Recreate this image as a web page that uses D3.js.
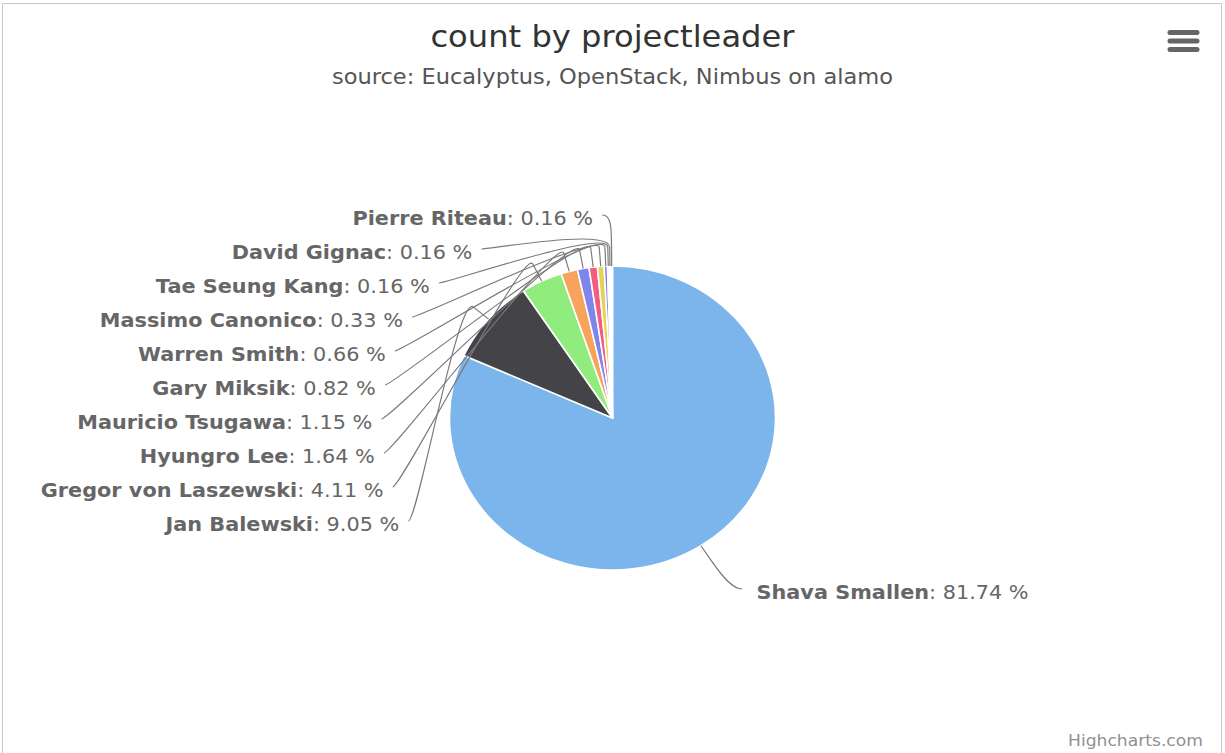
<!DOCTYPE html>
<html>
<head>
<meta charset="utf-8">
<script src="https://cdn.jsdelivr.net/npm/d3@7"></script>
<style>
  html, body { margin: 0; padding: 0; background: #fff; }
  svg { display: block; font-family: "DejaVu Sans", "Noto Sans", sans-serif; }
</style>
</head>
<body>
<svg id="chart" width="1225" height="753"></svg>
<script>
// ---- data ----
const leaders = ["Shava Smallen", "Jan Balewski", "Gregor von Laszewski", "Hyungro Lee",
  "Mauricio Tsugawa", "Gary Miksik", "Warren Smith", "Massimo Canonico",
  "Tae Seung Kang", "David Gignac", "Pierre Riteau"];
const counts = [497, 55, 25, 10, 7, 5, 4, 2, 1, 1, 1];
const sliceColors = ["#7cb5ec", "#434348", "#90ed7d", "#f7a35c", "#8085e9", "#f15c80",
  "#e4d354", "#8085e8", "#8d4653", "#91e8e1", "#7cb5ec"];
const titleText = "count by projectleader";
const subtitleText = "source: Eucalyptus, OpenStack, Nimbus on alamo";
const creditText = "Highcharts.com";

// ---- layout ----
const W = 1225, H = 753;
const sx = 1.0724;                 // horizontal stretch of the whole drawing
const cx = W / 2 / sx, cy = 418;   // pie centre (drawing units)
const r = 152;                     // pie radius
const labelDist = 55;              // distance of labels outside the pie
const R = r + labelDist;
const slotH = 34;                  // vertical spacing of stacked labels
const labelFont = 19.4;

const svg = d3.select("#chart");

// outer frame of the chart container
svg.append("rect")
  .attr("x", 2.5).attr("y", 3.5)
  .attr("width", W - 6).attr("height", H + 40)
  .attr("fill", "none").attr("stroke", "#c8c8c8").attr("stroke-width", 1);

// context menu button
const menu = svg.append("g");
[32.5, 41, 49.5].forEach(y => {
  menu.append("line")
    .attr("x1", 1170).attr("x2", 1197).attr("y1", y).attr("y2", y)
    .attr("stroke", "#666").attr("stroke-width", 5).attr("stroke-linecap", "round");
});

const g = svg.append("g").attr("transform", `scale(${sx},1)`);

// title & subtitle
g.append("text")
  .attr("x", cx).attr("y", 47)
  .attr("text-anchor", "middle")
  .attr("font-size", 30).attr("fill", "#333333")
  .text(titleText);
g.append("text")
  .attr("x", cx).attr("y", 84)
  .attr("text-anchor", "middle")
  .attr("font-size", 21).attr("fill", "#555555")
  .text(subtitleText);

// credits
g.append("text")
  .attr("x", 1203 / sx).attr("y", 746)
  .attr("text-anchor", "end")
  .attr("font-size", 16).attr("fill", "#909090")
  .text(creditText);

// ---- pie ----
const total = d3.sum(counts);
const data = leaders.map((name, i) => ({ name, count: counts[i], color: sliceColors[i] }));
const arcs = d3.pie().sort(null).value(d => d.count)(data);
const arc = d3.arc().innerRadius(0).outerRadius(r);

g.append("g")
  .attr("transform", `translate(${cx},${cy})`)
  .selectAll("path")
  .data(arcs)
  .join("path")
  .attr("d", arc)
  .attr("fill", d => d.data.color)
  .attr("stroke", "#ffffff")
  .attr("stroke-width", 1.5)
  .attr("stroke-linejoin", "round");

// ---- data labels with soft connectors ----
const pt = (a, rho) => [cx + rho * Math.sin(a), cy - rho * Math.cos(a)];
const getX = (y, left) =>
  cx + (left ? -1 : 1) * Math.sqrt(Math.max(0, R * R - (y - cy) * (y - cy)));
const slotTop = cy - R;

arcs.forEach(d => {
  d.mid = (d.startAngle + d.endAngle) / 2;
  d.left = Math.sin(d.mid) < 0;
  d.nat = pt(d.mid, R);
});

[true, false].forEach(side => {
  const items = arcs.filter(d => d.left === side).sort((a, b) => a.nat[1] - b.nat[1]);
  let prev = -1;
  items.forEach(d => {
    const nearest = Math.round((d.nat[1] - slotTop) / slotH);
    const idx = Math.max(nearest, prev + 1);
    prev = idx;
    d.slotY = slotTop + idx * slotH;
    d.ax = Math.abs(d.slotY - d.nat[1]) < slotH / 2 ? d.nat[0] : getX(d.slotY, side);
  });
});

const connectors = g.append("g");
arcs.forEach(d => {
  const ly = d.slotY + 4;
  const start = [d.ax + (d.left ? -8.5 : 8.5), ly];
  const c2 = pt(d.mid, r + 38);
  const b2 = pt(d.mid, r + 19);
  const b = pt(d.mid, r);
  const p = d3.path();
  p.moveTo(start[0], start[1]);
  p.bezierCurveTo(d.ax, ly, c2[0], c2[1], b2[0], b2[1]);
  p.lineTo(b[0], b[1]);
  connectors.append("path")
    .attr("d", p.toString())
    .attr("fill", "none")
    .attr("stroke", "#7a7a7a")
    .attr("stroke-width", 1.1);
});

const labels = g.append("g").attr("font-size", labelFont).attr("fill", "#666666");
arcs.forEach(d => {
  const t = labels.append("text")
    .attr("x", d.left ? d.ax - 17 : d.ax + 22)
    .attr("y", d.slotY + 14)
    .attr("text-anchor", d.left ? "end" : "start");
  t.append("tspan").attr("font-weight", "bold").text(d.data.name);
  t.append("tspan").text(": " + (d.data.count / total * 100).toFixed(2) + " %");
});
</script>
</body>
</html>
